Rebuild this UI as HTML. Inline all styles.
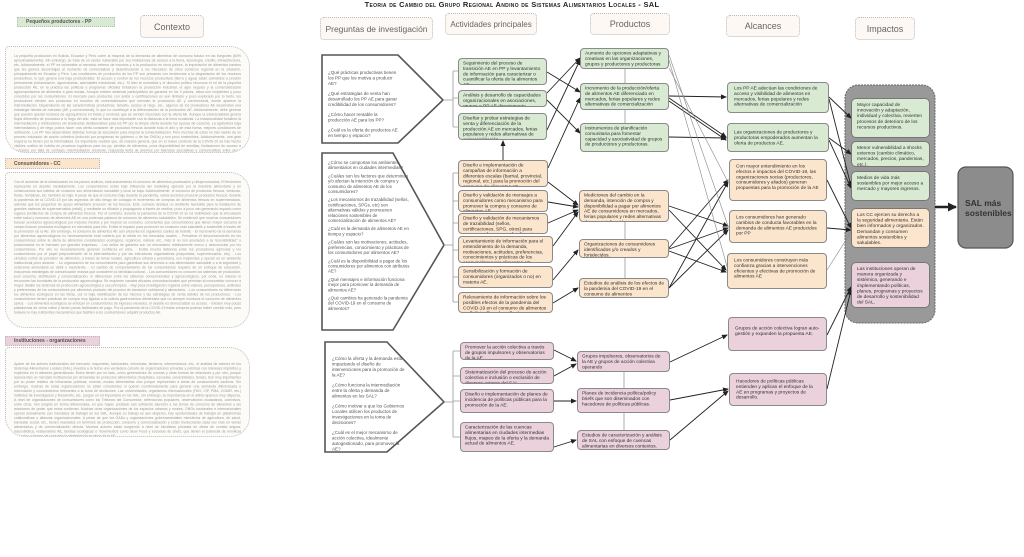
<!DOCTYPE html>
<html><head><meta charset="utf-8">
<style>
*{margin:0;padding:0;box-sizing:border-box}
body{width:1024px;height:466px;background:#fff;position:relative;overflow:hidden;font-family:"Liberation Sans",sans-serif;color:#333}
.a{position:absolute}
.t{display:block;width:200%;transform:scale(.5);transform-origin:0 0}
.b{position:absolute;border:1px solid #8a8a8a;border-radius:4px;padding:2px 4px;color:#333;overflow:hidden}
.b .t{font-size:9.6px;line-height:10.8px}
.g{background:#d9ead3}.o{background:#fce5cd}.p{background:#ead1dc}
.h{position:absolute;border:1px dotted #bbb;background:#fdf8f4;border-radius:4px;font-size:9px;color:#666;display:flex;align-items:center;justify-content:center;white-space:nowrap}
.q{position:absolute;color:#555}
.q .t{font-size:9px;line-height:11px}
.q p{margin-bottom:9px}
.q2 .t{font-size:8.8px;line-height:10.4px}
.q2 p{margin-bottom:6px}
.ctx{position:absolute;border:1px dotted #bbb;background:#fdfbf8;border-radius:4px 20px 20px 20px;padding:7px 8px;overflow:hidden}
.ctx .t{font-size:7px;line-height:9px;color:#999;text-align:justify}
.lab{position:absolute;border:1px dotted #bbb;overflow:hidden;padding:2px 8px}
.lab .t{font-size:10px;font-weight:bold;color:#555;line-height:12px}
.imp{position:absolute;border:1px solid #777;border-radius:5px;padding:3px 5px;color:#333;overflow:hidden}
.imp .t{font-size:9.6px;line-height:11.2px}
</style></head><body>

<div class="a" style="left:0;width:1024px;top:0;text-align:center;font-size:7.5px;font-weight:bold;letter-spacing:0.3px;color:#222;font-variant:small-caps">Teoria de Cambio del Grupo Regional Andino de Sistemas Alimentarios Locales - SAL</div>

<div class="lab" style="left:17px;top:17px;width:98px;height:10px;background:#d9ead3;padding-top:1px"><span class="t">Pequeños productores - PP</span></div>
<div class="lab" style="left:5px;top:158px;width:95px;height:11px;background:#fce5cd"><span class="t">Consumidores - CC</span></div>
<div class="lab" style="left:5px;top:336px;width:95px;height:10px;background:#ead1dc;padding-top:1px"><span class="t">Instituciones - organizaciones</span></div>

<div class="h" style="left:140px;top:15px;width:64px;height:23px">Contexto</div>
<div class="h" style="left:320px;top:17px;width:113px;height:23px;font-size:8.5px">Preguntas de investigación</div>
<div class="h" style="left:445px;top:13px;width:92px;height:22px;font-size:8px">Actividades principales</div>
<div class="h" style="left:590px;top:13px;width:80px;height:22px">Productos</div>
<div class="h" style="left:726px;top:15px;width:74px;height:22px">Alcances</div>
<div class="h" style="left:855px;top:17px;width:60px;height:23px">Impactos</div>

<div class="ctx" style="left:5px;top:46px;width:245px;height:107px"><span class="t">La pequeña producción en Bolivia, Ecuador y Perú cubre la mayoría de la demanda de alimentos de consumo básico en las fuegones (60% aproximadamente). Sin embargo, se trata de un sector vulnerable por sus limitaciones de acceso a la tierra, tecnología, crédito, infraestructura, etc. Adicionalmente, el PP es vulnerable al mercado externo de insumos y a la producción en otros países, la importación de alimentos baratos que les genera desventajas al momento de comercializar y desestructuran a los mercados de otros comercio regional en la situación, principalmente en Ecuador y Perú. Las condiciones de producción de los PP son precarias con tendencias a la degradación de los recursos productivos, lo que genera una baja productividad. El acceso y control de los recursos productivos (tierra y agua) están sometidos a presión permanente (urbanización, agroindustria, actividades extractivas, etc.). Si bien la normativa y el discurso político reconoce el rol de la pequeña producción AE, en la práctica las políticas y programas oficiales fortalecen la producción industrial, el agro negocio y la comercialización agroexportadora de alimentos a gran escala. Aunque existen sistemas participativos de garantía en los 3 países, estos son incipientes y poco conocidos por los consumidores. El mercado para productos con sellos o certificaciones es aún limitado y poco explorado por lo tanto, los productores venden sus productos en circuitos de comercialización que mezclan la producción AE y convencional, donde aparece la intermediación. Dependiendo de las características productivas, tamaño, acceso al riego, etc., algunos de los productores AE desarrollan una estrategia híbrida de mercado (AE y convencional), lo que no contribuye a la diferenciación de la producción AE. Adicionalmente, debe generar que pueden quedar residuos de agroquímicos en frutas y verduras que se venden mezclado con la oferta AE. Aunque la estacionalidad genera flujos diferentes de productos a lo largo del año, esta se hace más importante con la distancia a la línea ecuatorial. La estacionalidad fortalece la intermediación y retribuciones sin tendencias desfavorables para los PP por la simple oferta durante los épocas de cosecha. La agricultura baja intermediarios y de riego podría hacer una oferta constante de productos frescos durante todo el año y de esta forma, mejores condiciones de retribución. Los PP han desarrollado distintas formas de asociación para mejorar la comercialización. Pero muchas de estas no han nacido de un proceso educador de acción colectiva (inducido por programas de gobierno o de las ONGs) y son poco sostenibles. Adicionalmente, una gran mayoría no tienen por la informalidad. Es importante resaltar que, de manera general, que en el nuevo contexto de la COVID-19 se han hecho visibles cuellos de botella en procesos logísticos para los pp, pérdida de alimentos, poca disponibilidad de semillas, limitaciones de acceso a mercados por falta de contagio, intermediación creciente, respuesta lenta de gremios por falencias asociativas y comunicativas entre otros. Además, el apoyo para los pp es muy limitado y como resultado, el rol de los intermediarios se ha incrementado en desmedro de la posibilidad de desarrollar o fortalecer circuitos directos con los consumidores. Sin embargo, cabe mencionar que hubieron ciertas iniciativas de venta directa surgidas durante la pandemia, que son una oportunidad y se deberían positivizar crecer o sostenerse. También se ha evidenciado una migración desde las ciudades de vuelta al campo en el marco de la pandemia, lo que por un lado, más bocas que alimentar en el campo, pero por otro lado, más disponibilidad de mano de obra y la oportunidad de personas que podrían instalarse en el campo con más conocimiento, capital y esto podría generar algunos cambios.</span></div>

<div class="ctx" style="left:5px;top:172px;width:245px;height:156px"><span class="t">Con el aumento de la urbanización en los países andinos, está aumentando el consumo de alimentos procesados y ultraprocesados. El fenómeno representa un desafío mediatamente. Los consumidores están bajo influencia del marketing ejercido por la industria alimentaria y en consecuencia sus hábitos de consumo son alimentación saludable y local se baja. Adicionalmente, el consumo de productos frescos, verduras, frutas, hortalizas, etc. también se bajó. A pesar de que el consumo bajo durante la pandemia, varios sectores procuran productos frescos; durante la pandemia de la COVID-19 por las aspectos de alto riesgo de contagio el incremento de compras de alimentos frescos en supermercados, además que los pequeños de apoyo alimentario procuren de los frescos. Este, sumado destaca un ambiente favorable para la instalación de grandes cadenas de supermercados (retail), y mediante su difusión y propagando a través de medios, poco a poco van generando espacio como lugares predilectos de compra de alimentos frescos. Por el contrario, durante la pandemia de la COVID-19 se ha visibilizado que la vinculación entre salud y consumo de alimentos AE es una poderosa palanca de consumo de alimentos saludables. Se evidenció que muchos consumidores buscan productos agroecológicos por mejores medios y por mejorar su consumo, conscientes que consumidores que tienen mayor cercanía al campo buscan productos ecológicos en mercados para ello. Existe el espacio para promover un consumo más saludable y sostenible a través de la promoción de la AE. Sin embargo, el consumo de alimentos AE aún presenta los siguientes cuellos de botella: - El incremento de la demanda por alimentos agroecológicos no necesariamente está cubierto por la oferta en los mercados locales. - Prevalece el desconocimiento en los consumidores sobre la oferta de alimentos considerados ecológicos, orgánicos, natural, etc., más si no son asociados a la "ecovisibilidad" o posicionados en el mercado por grandes empresas. - Los sellos de garantía son un mecanismo relativamente nuevo y desconocido por los consumidores. Por ello no necesariamente generan confianza en ellos. - Existe mucha distancia entre los productores agrícolas y los consumidores por el papel preponderante de la intermediación y por las estructuras organizativas (mayoristas, supermercados, etc). - Los circuitos cortos de provisión de alimentos, a través de ferias locales, agricultura urbana y periurbana, son incipientes y operan en un ambiente institucional poco alcance. - La organización de los consumidores para garantizar sus derechos a una alimentación saludable o a la seguridad y soberanía alimentaria es débil o inexistente. - El cambio de comportamiento de los consumidores requiere de un enfoque de educación, incluyendo estrategias de comunicación masiva que consideren la identidad cultural. - Los consumidores no conocen los sistemas de producción, post cosecha, distribución y comercialización, ni diferencian entre los sistemas convencionales y agroecológicos, por ende, no valoran ni reconocen las bondades de la producción agroecológica. Se requieren canales eficaces comunicacionales que permitan al consumidor conocer a mayor detalle los sistemas de producción agroecológica y sus principios. - Hay poca investigación regional sobre valores, percepciones, actitudes y preferencias de los consumidores por alimentos producto del proceso de transición nutricional y alimentaria. - Los consumidores no diferencian los alimentos ecológicos en las ferias, por la baja visibilización de los mismos y las estrategias de venta débiles de los productores. - Los consumidores tienen prácticas de compra muy ligadas a la cultura gastronómica alimentaria que no siempre involucra el consumo de alimentos sanos. - Los alimentos ecológicos se enfocan en consumidores de ingresos elevados, el desafío es democratizar su acceso. - Existen muy pocas plataformas de venta online y tienen pocas facilidades de pago. Por la pandemia de la COVID-19 estas compras podrían haber crecido más, pero todavía no hay suficientes mecanismos que faciliten a los consumidores adquirir productos AE.</span></div>

<div class="ctx" style="left:5px;top:347px;width:245px;height:90px;padding-top:14px"><span class="t">Aparte de los actores tradicionales del mercado, mayoristas, fabricantes, minoristas, tenderos, intermediarios, etc., el análisis de actores en los Sistemas Alimentarios Locales (SAL) muestra a la fecha una verdadera cohorte de organizaciones privadas y públicas con intereses implícitos y explícitos en el alimento generalizado. Estos tienen por un lado, como generadores de normas y otras formas de relaciones y por otro, porque representan un mercado institucional por demandas de productos alimentarios (hospitales, escuelas, universidades, ferias). Son muy importantes por su poder relativo de influencias políticas, normas, modas alimentarias sino porque representan a áreas de consumidores cautivos. Sin embargo, muchas de estas organizaciones no están conscientes ni operan coordinadamente para generar una demanda diferenciada o información y conocimientos relevantes a la toma de decisiones. Las universidades, organismos internacionales (FAO, CIP, PMA, CGIAR, etc.) institutos de investigación y Desarrollo, etc., juegan un rol importante en los SAL; sin embargo, su importancia en el último aparece muy dispersa. A nivel de organizaciones de consumidores como los Tribunos del Consumidor, defensorías populares, observatorios ciudadanos, colectivos, entre otros, han surgido en forma diferenciada, en que hayan prestado aún suficiente atención a los temas de consumo de alimentos y las relaciones de poder que estos conllevan. Muchas otras organizaciones de los espacios urbanos y rurales, ONGs nacionales e internacionales operan actualmente con mandatos de trabajar en los SAL. Aunque su trabajo es aún disperso, hay oportunidades de trabajar en plataformas colaborativas o alianzas organizacionales. A pesar de que los GADs y organizaciones gubernamentales ministerios de agricultura, de salud, bienestar social, etc., tienen mandatos en términos de producción, consumo y comercialización y están involucrando cada vez más en temas alimentarios y de comercialización directa. Muchos actores están surgiendo a nivel de iniciativas privadas en oferta de comida segura, macrobiótica, restaurantes AE, tiendas ecológicas o movimientos como Slow Food y escuelas de chefs, que tienen el potencial de movilizar alimentos y formas de consumir la alimentación en favor de la AE.</span></div>

<svg class="a" style="left:0;top:0" width="1024" height="466" viewBox="0 0 1024 466">
<defs><marker id="ar" markerWidth="6" markerHeight="6" refX="5" refY="3" orient="auto" markerUnits="userSpaceOnUse"><path d="M0,0.5 L6,3 L0,5.5z" fill="#222"/></marker>
<marker id="ar2" markerWidth="9" markerHeight="9" refX="8" refY="4.5" orient="auto" markerUnits="userSpaceOnUse"><path d="M0,0 L9,4.5 L0,9z" fill="#222"/></marker></defs>
<rect x="845" y="85" width="90" height="238" rx="13" fill="#999" stroke="#666" stroke-dasharray="2,1"/>
<rect x="958" y="167" width="55" height="81" rx="8" fill="#8c8c8c" stroke="#555" stroke-width="1.2"/>
<line x1="935" y1="207" x2="956" y2="207" stroke="#222" stroke-width="2.5" marker-end="url(#ar2)"/>
<g fill="#fff" stroke="#555" stroke-width="1.6">
<polygon points="322,55 398,55 443,100 398,143 322,143"/>
<polygon points="322,153 393,153 444,245 393,330 322,330"/>
<polygon points="325,342 387,342 444,402 387,452 325,452"/>
</g>
<g fill="none" stroke="#999" stroke-width="0.8">
<path d="M443,100 L453,100 M453,71 L453,127 M453,71 L458,71 M453,98 L458,98 M453,127 L458,127"/>
<path d="M444,245 L453,245 M453,173 L453,302 M453,173 L458,173 M453,201 L458,201 M453,223 L458,223 M453,250 L458,250 M453,277 L458,277 M453,302 L458,302"/>
<path d="M444,402 L453,402 M453,351 L453,437 M453,351 L460,351 M453,376 L460,376 M453,401 L460,401 M453,437 L460,437"/>
<path d="M625,69 L625,83 M625,110 L625,123 M625,222 L625,239 M625,258 L625,278 M624,372 L624,388 M624,413 L624,430"/>
</g>
<g stroke="#222" stroke-width="0.9" fill="none" marker-end="url(#ar)">
<line x1="547" y1="72" x2="580" y2="92"/>
<line x1="547" y1="93" x2="580" y2="58"/>
<line x1="547" y1="100" x2="580" y2="133"/>
<line x1="547" y1="130" x2="580" y2="60"/>
<line x1="503" y1="160" x2="503" y2="141"/>
<line x1="548" y1="168" x2="580" y2="98"/>
<line x1="548" y1="182" x2="578" y2="205"/>
<line x1="548" y1="202" x2="578" y2="207"/>
<line x1="548" y1="223" x2="578" y2="210"/>
<line x1="553" y1="246" x2="578" y2="212"/>
<line x1="553" y1="280" x2="578" y2="250"/>
<line x1="553" y1="303" x2="578" y2="288"/>
<line x1="554" y1="350" x2="576" y2="361"/>
<line x1="554" y1="376" x2="576" y2="364"/>
<line x1="554" y1="401" x2="576" y2="401"/>
<line x1="554" y1="447" x2="576" y2="440"/>
</g>
<g stroke="#222" stroke-width="0.9" fill="none" marker-end="url(#ar)">
<line x1="669" y1="96" x2="726" y2="97"/>
<line x1="669" y1="98" x2="726" y2="137"/>
<line x1="669" y1="101" x2="726" y2="140"/>
<line x1="669" y1="137" x2="726" y2="138"/>
<line x1="669" y1="206" x2="728" y2="226"/>
<line x1="669" y1="210" x2="726" y2="270"/>
<line x1="669" y1="248" x2="728" y2="180"/>
<line x1="669" y1="249" x2="728" y2="228"/>
<line x1="669" y1="251" x2="726" y2="272"/>
<line x1="669" y1="288" x2="728" y2="182"/>
<line x1="669" y1="288" x2="728" y2="230"/>
<line x1="670" y1="362" x2="727" y2="335"/>
<line x1="670" y1="400" x2="728" y2="389"/>
<line x1="670" y1="440" x2="728" y2="391"/>
</g>
<g stroke="#888" stroke-width="0.6" fill="none">
<line x1="669" y1="55" x2="728" y2="226"/>
<line x1="669" y1="60" x2="728" y2="270"/>
<line x1="669" y1="68" x2="728" y2="182"/>
</g>
<g stroke="#222" stroke-width="0.9" fill="none" marker-end="url(#ar)">
<line x1="829" y1="97" x2="851" y2="118"/>
<line x1="829" y1="99" x2="851" y2="186"/>
<line x1="829" y1="138" x2="851" y2="154"/>
<line x1="829" y1="140" x2="851" y2="188"/>
<line x1="827" y1="180" x2="851" y2="228"/>
<line x1="827" y1="228" x2="851" y2="230"/>
<line x1="827" y1="335" x2="851" y2="287"/>
<line x1="827" y1="389" x2="851" y2="290"/>
</g>
<line x1="827" y1="270" x2="851" y2="232" stroke="#888" stroke-width="0.6"/>
</svg>

<div class="a" style="left:959px;top:167px;width:54px;height:81px;display:flex;align-items:center;padding-left:6px;font-size:8.5px;font-weight:bold;color:#333;line-height:10px">SAL más sostenibles</div>

<div class="q" style="left:328px;top:70px;width:72px"><span class="t"><p>¿Qué prácticas productivas tienen los PP que los motiva a producir AE?</p><p>¿Qué estrategias de venta han desarrollado los PP AE para ganar credibilidad de los consumidores?</p><p>¿Cómo hacer rentable la producción AE para los PP?</p><p>¿Cuál es la oferta de productos AE en tiempo y espacio?</p></span></div>
<div class="q q2" style="left:328px;top:160px;width:82px"><span class="t"><p>¿Cómo se comportan los ambientes alimentarios en ciudades intermedias?</p><p>¿Cuáles son los factores que determinan y/o afectan la intención de compra y consumo de alimentos AE de los consumidores?</p><p>¿Los mecanismos de trazabilidad (sellos, certificaciones, SPGs, etc) son alternativas válidos y promueven relaciones sostenibles de comercialización de alimentos AE?</p><p>¿Cuál es la demanda de alimentos AE en tiempo y espacio?</p><p>¿Cuáles son las motivaciones, actitudes, preferencias, conocimiento y prácticas de los consumidores por alimentos AE?</p><p>¿Cuál es la disponibilidad a pagar de los consumidores por alimentos con atributos AE?</p><p>¿Qué mensajes e información funciona mejor para promover la demanda de alimentos AE?</p><p>¿Qué cambios ha generado la pandemia del COVID-19 en el consumo de alimentos?</p></span></div>
<div class="q" style="left:332px;top:356px;width:75px"><span class="t"><p>¿Cómo la oferta y la demanda está impactando el diseño de intervenciones para la promoción de la AE?</p><p>¿Cómo funciona la intermediación entre la oferta y demanda de alimentos en los SAL?</p><p>¿Cómo motivar a que los Gobiernos Locales utilicen los productos de investigaciones en la toma de decisiones?</p><p>¿Cuál es el mejor mecanismo de acción colectiva, idealmente autogestionado, para promover la AE?</p></span></div>

<div class="b g" style="left:458px;top:58px;width:89px;height:27px"><span class="t">Seguimiento del proceso de transición AE en PP y levantamiento de información para caracterizar o cuantificar la oferta de la alimentos AE.</span></div>
<div class="b g" style="left:458px;top:90px;width:89px;height:17px"><span class="t">Análisis y desarrollo de capacidades organizacionales en asociaciones, grupos o PP AE directamente.</span></div>
<div class="b g" style="left:458px;top:113px;width:89px;height:27px"><span class="t">Diseñar y probar estrategias de venta y diferenciación de la producción AE en mercados, ferias populares y redes alternativas de comercialización</span></div>
<div class="b o" style="left:458px;top:160px;width:90px;height:27px"><span class="t">Diseño e implementación de campañas de información a diferentes escalas (barrial, provincial, regional, etc.) para la promoción del consumo de alimentos AE.</span></div>
<div class="b o" style="left:458px;top:190px;width:90px;height:22px"><span class="t">Diseño y validación de mensajes a consumidores como mecanismo para promover la compra y consumo de alimentos AE.</span></div>
<div class="b o" style="left:458px;top:213px;width:90px;height:21px"><span class="t">Diseño y validación de mecanismos de trazabilidad (sellos, certificaciones, SPG, otros) para promover el consumo de alimentos AE.</span></div>
<div class="b o" style="left:458px;top:236px;width:95px;height:27px"><span class="t">Levantamiento de información para el entendimiento de la demanda, motivaciones, actitudes, preferencias, conocimientos y prácticas de los consumidores por alimentos AE.</span></div>
<div class="b o" style="left:458px;top:266px;width:95px;height:22px"><span class="t">Sensibilización y formación de consumidores (organizados o no) en materia AE.</span></div>
<div class="b o" style="left:458px;top:292px;width:95px;height:21px"><span class="t">Relevamiento de información sobre los posibles efectos de la pandemia del COVID-19 en el consumo de alimentos en Bolivia, Ecuador y Perú.</span></div>
<div class="b p" style="left:460px;top:342px;width:94px;height:18px"><span class="t">Promover la acción colectiva a través de grupos impulsores y observatorios de la AE.</span></div>
<div class="b p" style="left:460px;top:367px;width:94px;height:17px"><span class="t">Sistematización del proceso de acción colectiva e inclusión o exclusión de diversos actores del SAL.</span></div>
<div class="b p" style="left:460px;top:389px;width:94px;height:24px"><span class="t">Diseño e implementación de planes de incidencia de políticas públicas para la promoción de la AE.</span></div>
<div class="b p" style="left:460px;top:422px;width:94px;height:30px"><span class="t">Caracterización de las cuencas alimentarias en ciudades intermedias flujos, mapeo de la oferta y la demanda actual de alimentos AE.</span></div>

<div class="b g" style="left:580px;top:48px;width:89px;height:21px"><span class="t">Aumento de opciones adaptativas y creativas en las organizaciones, grupos y productores y productoras</span></div>
<div class="b g" style="left:580px;top:83px;width:89px;height:27px"><span class="t">Incremento de la producción/oferta de alimentos AE diferenciado en mercados, ferias populares y redes alternativas de comercialización</span></div>
<div class="b g" style="left:580px;top:123px;width:89px;height:29px"><span class="t">Instrumentos de planificación comunitaria para fomentar capacidad y asociatividad de grupos de productores y productoras.</span></div>
<div class="b o" style="left:579px;top:190px;width:90px;height:32px"><span class="t">Mediciones del cambio en la demanda, intención de compra y disponibilidad a pagar por alimentos AE de consumidores en mercados, ferias populares y redes alternativas de comercialización</span></div>
<div class="b o" style="left:579px;top:239px;width:90px;height:19px"><span class="t">Organizaciones de consumidores identificados y/o creados y fortalecidos.</span></div>
<div class="b o" style="left:579px;top:278px;width:90px;height:20px"><span class="t">Estudios de análisis de los efectos de la pandemia del COVID-19 en el consumo de alimentos</span></div>
<div class="b p" style="left:577px;top:351px;width:93px;height:21px"><span class="t">Grupos impulsores, observatorios de la AE y grupos de acción colectiva operando</span></div>
<div class="b p" style="left:577px;top:388px;width:93px;height:25px"><span class="t">Planes de incidencia política/policy briefs que son diseminados con hacedores de políticas públicas.</span></div>
<div class="b p" style="left:577px;top:430px;width:93px;height:20px"><span class="t">Estudios de caracterización y análisis de SAL con enfoque de cuencas alimentarias en diversos contextos.</span></div>

<div class="b g" style="left:727px;top:82px;width:102px;height:31px;padding:3px 6px"><span class="t">Los PP AE adecúan las condiciones de acceso y visibilidad de alimentos en mercados, ferias populares y redes alternativas de comercialización</span></div>
<div class="b g" style="left:727px;top:123px;width:102px;height:29px;padding:6px 6px"><span class="t">Las organizaciones de productores y productoras empoderados aumentan la oferta de productos AE.</span></div>
<div class="b o" style="left:729px;top:159px;width:98px;height:42px;padding:4px 6px"><span class="t">Con mayor entendimiento en los efectos e impactos del COVID-19, las organizaciones socias (productores, consumidores y aliados) generan propuestas para la promoción de la AE</span></div>
<div class="b o" style="left:729px;top:210px;width:98px;height:33px;padding:4px 6px"><span class="t">Los consumidores han generado cambios de conducta favorables en la demanda de alimentos AE producidos por PP</span></div>
<div class="b o" style="left:727px;top:253px;width:100px;height:36px;padding:4px 6px"><span class="t">Los consumidores construyen más confianza gracias a intervenciones eficientes y efectivas de promoción de alimentos AE</span></div>
<div class="b p" style="left:728px;top:317px;width:99px;height:34px;padding:8px 6px"><span class="t">Grupos de acción colectiva logran auto-gestión y expanden la propuesta AE.</span></div>
<div class="b p" style="left:729px;top:373px;width:98px;height:33px;padding:5px 6px"><span class="t">Hacedores de políticas públicas entienden y aplican el enfoque de la AE en programas y proyectos de desarrollo.</span></div>

<div class="imp g" style="left:851px;top:98px;width:79px;height:40px"><span class="t">Mayor capacidad de innovación y adaptación, individual y colectiva, revierten procesos de deterioro de los recursos productivos.</span></div>
<div class="imp g" style="left:851px;top:141px;width:79px;height:26px"><span class="t">Menor vulnerabilidad a shocks externos (cambio climático, mercados, precios, pandemias, etc.).</span></div>
<div class="imp g" style="left:851px;top:171px;width:79px;height:30px"><span class="t">Medios de vida más sostenibles por mejor acceso a mercado y mayores ingresos.</span></div>
<div class="imp o" style="left:851px;top:208px;width:79px;height:40px"><span class="t">Los CC ejercen su derecho a la seguridad alimentaria. Están bien informados y organizados. Demandan y consumen alimentos sostenibles y saludables.</span></div>
<div class="imp p" style="left:851px;top:262px;width:79px;height:46px"><span class="t">Las instituciones operan de manera organizada y sistémica, generando e implementando políticas, planes, programas y proyectos de desarrollo y sostenibilidad del SAL.</span></div>

</body></html>
